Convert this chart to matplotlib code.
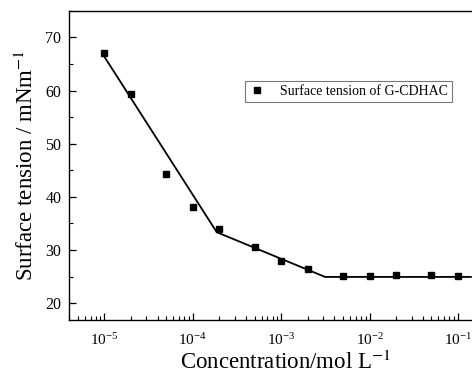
import matplotlib
matplotlib.use("Agg")
import matplotlib.pyplot as plt
from matplotlib.ticker import LogLocator, LogFormatterSciNotation, MultipleLocator

# Measured surface tension
conc = [1e-5, 2e-5, 5e-5, 1e-4, 2e-4, 5e-4, 1e-3, 2e-3, 5e-3, 1e-2, 2e-2, 5e-2, 1e-1]
tension = [67.1, 59.3, 44.3, 38.1, 34.0, 30.5, 27.95, 26.5, 25.1, 25.1, 25.3, 25.25, 25.05]

# Fitted piecewise line
fit_x = [1e-5, 1.87e-4, 3.14e-3, 0.14]
fit_y = [66.4, 33.35, 24.93, 24.93]

plt.rcParams['font.family'] = ['Liberation Serif', 'DejaVu Serif']
plt.rcParams['mathtext.fontset'] = 'stix'

fig = plt.figure(figsize=(4.72, 3.75), dpi=100)
ax = fig.add_axes([0.146, 0.147, 0.918, 0.824])

ax.plot(fit_x, fit_y, color='black', lw=1.3, zorder=2)
ax.plot(conc, tension, ls='none', marker='s', ms=4.8, color='black',
        label='Surface tension of G-CDHAC', zorder=3)

ax.set_xscale('log')
ax.set_xlim(10 ** -5.4, 10 ** -0.5)
ax.set_ylim(16.85, 75)

ax.xaxis.set_major_locator(LogLocator(base=10, numticks=12))
ax.xaxis.set_minor_locator(LogLocator(base=10, subs=range(2, 10), numticks=12))
ax.xaxis.set_major_formatter(LogFormatterSciNotation())
ax.yaxis.set_major_locator(MultipleLocator(10))
ax.yaxis.set_minor_locator(MultipleLocator(5))

ax.tick_params(axis='x', which='major', direction='in', length=5, width=0.9, labelsize=11, pad=9)
ax.tick_params(axis='x', which='minor', direction='in', length=3, width=0.8)
ax.tick_params(axis='y', which='major', direction='in', length=5, width=0.9, labelsize=11.5, pad=5.5)
ax.tick_params(axis='y', which='minor', direction='in', length=3, width=0.8)

for s in ax.spines.values():
    s.set_linewidth(1.0)

ax.set_xlabel('Concentration/mol L$^{-1}$', fontsize=16.5, labelpad=2)
ax.set_ylabel('Surface tension / mNm$^{-1}$', fontsize=16.5, labelpad=5)

leg = ax.legend(loc='upper right', bbox_to_anchor=(0.957, 0.784),
                bbox_transform=fig.transFigure, borderaxespad=0,
                fancybox=False, edgecolor='#555555', fontsize=10,
                handlelength=1.2, handletextpad=1.0, borderpad=0.3,
                markerscale=0.9)
leg.get_frame().set_linewidth(0.8)

fig.savefig('out.png', dpi=100)
